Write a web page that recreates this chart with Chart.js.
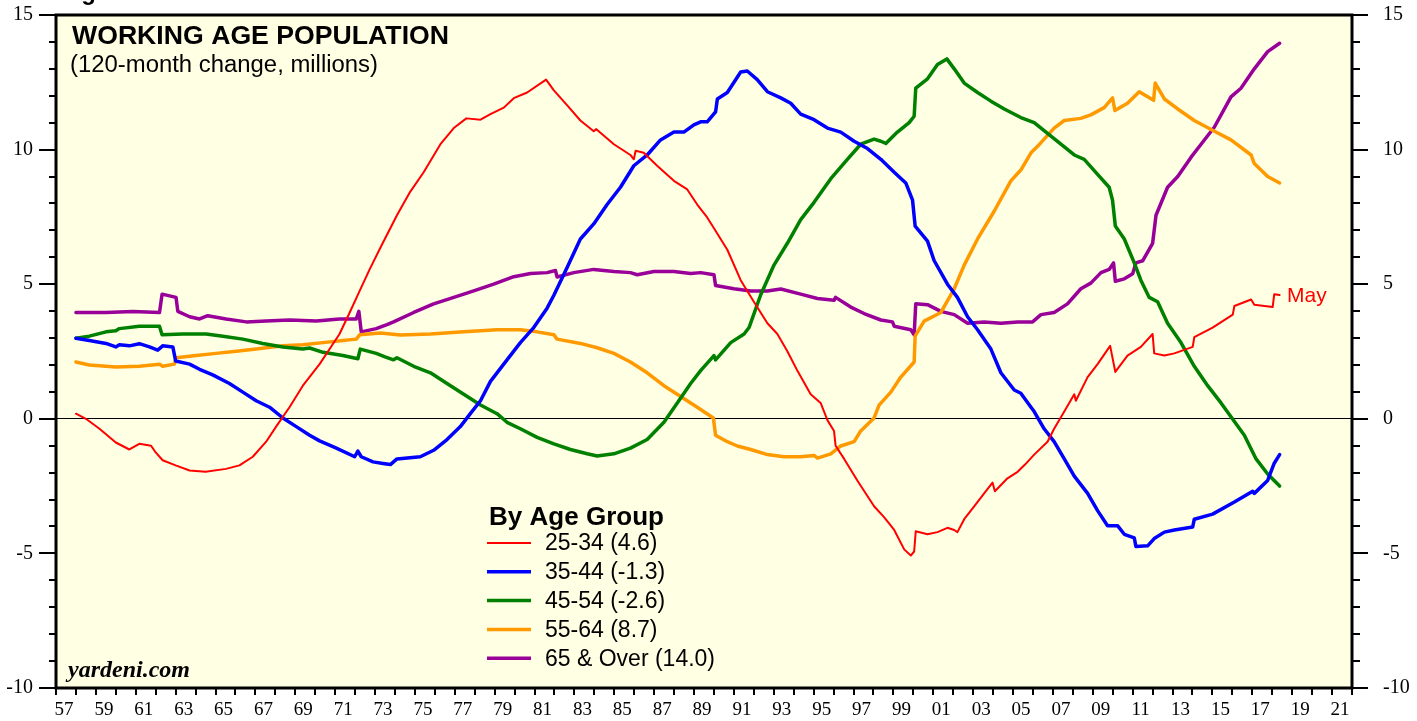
<!DOCTYPE html>
<html>
<head>
<meta charset="utf-8">
<script src="https://cdn.jsdelivr.net/npm/chart.js@4.4.1/dist/chart.umd.min.js"></script>
<style>
html, body { margin: 0; padding: 0; background: #fff; }
</style>
</head>
<body>
<canvas id="myChart" width="1417" height="721"></canvas>
<script>
// 120-month change, millions (x = decimal year)
var red_years = [1958.0, 1958.5, 1959.18, 1960.0, 1960.68, 1961.18, 1961.77, 1962.0, 1962.35, 1963.0, 1963.7, 1964.5, 1965.53, 1966.2, 1966.87, 1967.54, 1968.04, 1968.71, 1969.38, 1970.22, 1971.22, 1971.73, 1972.23, 1972.73, 1973.3, 1974.1, 1974.77, 1975.44, 1976.28, 1976.95, 1977.58, 1978.29, 1978.79, 1979.46, 1979.96, 1980.63, 1981.58, 1981.97, 1982.64, 1983.3, 1983.97, 1984.1, 1984.98, 1985.81, 1985.98, 1986.07, 1986.48, 1987.15, 1987.99, 1988.66, 1989.16, 1989.66, 1990.0, 1990.67, 1991.34, 1992.0, 1992.68, 1993.18, 1993.68, 1994.18, 1994.85, 1995.35, 1995.69, 1996.02, 1996.1, 1996.53, 1997.19, 1998.03, 1998.53, 1999.04, 1999.54, 1999.87, 2000.04, 2000.12, 2000.71, 2001.21, 2001.71, 2002.05, 2002.21, 2002.55, 2003.05, 2003.55, 2003.97, 2004.09, 2004.72, 2005.23, 2005.6, 2006.06, 2006.73, 2007.06, 2007.57, 2008.07, 2008.15, 2008.74, 2009.24, 2009.87, 2010.13, 2010.74, 2011.41, 2012.0, 2012.08, 2012.59, 2013.09, 2014.01, 2014.09, 2015.01, 2016.02, 2016.1, 2016.94, 2017.1, 2018.02, 2018.1, 2018.37];
var red_values = [0.19, 0.0, -0.37, -0.88, -1.14, -0.93, -1.0, -1.25, -1.54, -1.73, -1.92, -1.97, -1.86, -1.73, -1.41, -0.85, -0.29, 0.43, 1.23, 2.03, 3.15, 3.95, 4.75, 5.55, 6.4, 7.56, 8.44, 9.16, 10.2, 10.8, 11.16, 11.11, 11.32, 11.56, 11.91, 12.12, 12.6, 12.2, 11.64, 11.08, 10.68, 10.76, 10.2, 9.8, 9.64, 9.96, 9.88, 9.4, 8.84, 8.52, 7.96, 7.48, 7.08, 6.28, 5.15, 4.35, 3.55, 3.15, 2.51, 1.79, 0.91, 0.59, -0.05, -0.45, -1.0, -1.49, -2.29, -3.25, -3.65, -4.13, -4.85, -5.08, -4.93, -4.18, -4.29, -4.21, -4.05, -4.13, -4.21, -3.73, -3.25, -2.77, -2.37, -2.69, -2.21, -1.97, -1.7, -1.33, -0.85, -0.37, 0.27, 0.91, 0.67, 1.55, 2.03, 2.71, 1.74, 2.35, 2.67, 3.15, 2.43, 2.35, 2.43, 2.67, 3.03, 3.39, 3.87, 4.19, 4.43, 4.24, 4.15, 4.63, 4.6];

var blue_years = [1958.0, 1958.67, 1959.51, 1960.0, 1960.18, 1960.68, 1961.18, 1961.69, 1962.1, 1962.35, 1962.86, 1963.0, 1963.7, 1964.2, 1964.86, 1965.7, 1966.37, 1967.04, 1967.71, 1968.38, 1969.05, 1969.72, 1970.22, 1971.06, 1971.98, 1972.14, 1972.31, 1972.9, 1973.4, 1973.77, 1974.1, 1975.27, 1975.94, 1976.61, 1977.28, 1977.78, 1978.29, 1978.79, 1979.62, 1980.29, 1980.96, 1981.63, 1981.97, 1982.64, 1983.3, 1983.97, 1984.64, 1985.31, 1985.98, 1986.65, 1987.32, 1987.99, 1988.49, 1988.99, 1989.33, 1989.66, 1990.08, 1990.17, 1990.67, 1991.34, 1991.67, 1992.17, 1992.68, 1993.35, 1993.85, 1994.35, 1995.02, 1995.69, 1996.36, 1997.03, 1997.7, 1998.37, 1999.04, 1999.62, 1999.96, 2000.09, 2000.71, 2001.04, 2001.71, 2002.21, 2002.72, 2003.22, 2003.89, 2004.39, 2005.06, 2005.39, 2005.9, 2006.06, 2006.56, 2007.06, 2007.57, 2008.07, 2008.74, 2009.24, 2009.74, 2010.24, 2010.58, 2011.08, 2011.16, 2011.75, 2012.08, 2012.59, 2013.09, 2014.01, 2014.09, 2015.01, 2016.1, 2017.02, 2017.1, 2017.77, 2018.1, 2018.37];
var blue_values = [2.99, 2.91, 2.8, 2.67, 2.75, 2.71, 2.79, 2.67, 2.55, 2.71, 2.67, 2.15, 2.03, 1.84, 1.63, 1.31, 0.99, 0.67, 0.43, 0.03, -0.29, -0.61, -0.82, -1.09, -1.41, -1.2, -1.41, -1.6, -1.66, -1.7, -1.49, -1.41, -1.17, -0.77, -0.29, 0.19, 0.67, 1.39, 2.19, 2.83, 3.39, 4.11, 4.59, 5.63, 6.68, 7.24, 7.96, 8.6, 9.4, 9.8, 10.36, 10.65, 10.65, 10.92, 11.03, 11.03, 11.4, 11.88, 12.12, 12.88, 12.92, 12.6, 12.15, 11.92, 11.72, 11.32, 11.11, 10.8, 10.65, 10.31, 10.04, 9.64, 9.16, 8.76, 8.12, 7.16, 6.6, 5.88, 5.0, 4.51, 3.79, 3.31, 2.59, 1.71, 1.07, 0.95, 0.43, 0.27, -0.37, -0.85, -1.49, -2.13, -2.77, -3.41, -3.97, -3.97, -4.29, -4.42, -4.74, -4.72, -4.45, -4.21, -4.13, -4.02, -3.73, -3.54, -3.09, -2.69, -2.77, -2.29, -1.65, -1.33];

var green_years = [1958.0, 1958.67, 1959.51, 1960.0, 1960.18, 1961.18, 1962.19, 1962.32, 1963.36, 1964.53, 1965.37, 1966.37, 1967.37, 1968.38, 1969.38, 1969.72, 1970.39, 1971.39, 1972.14, 1972.26, 1973.06, 1973.5, 1973.93, 1974.1, 1974.94, 1975.78, 1976.61, 1977.45, 1978.29, 1979.12, 1979.62, 1980.29, 1981.13, 1981.97, 1982.8, 1983.64, 1984.14, 1984.98, 1985.81, 1986.65, 1987.49, 1988.16, 1988.83, 1989.33, 1990.0, 1990.08, 1990.84, 1991.51, 1991.76, 1992.34, 1993.01, 1993.68, 1994.35, 1995.02, 1995.86, 1996.69, 1997.36, 1998.03, 1998.37, 1998.62, 1999.2, 1999.79, 2000.04, 2000.12, 2000.71, 2001.21, 2001.68, 2002.05, 2002.55, 2003.22, 2003.89, 2004.56, 2005.39, 2006.06, 2006.73, 2007.4, 2008.07, 2008.57, 2009.24, 2009.82, 2009.99, 2010.13, 2010.58, 2011.08, 2011.41, 2011.83, 2012.25, 2012.75, 2013.42, 2014.09, 2014.76, 2015.43, 2016.02, 2016.6, 2017.19, 2017.77, 2018.37];
var green_values = [2.99, 3.07, 3.23, 3.27, 3.35, 3.44, 3.44, 3.12, 3.15, 3.15, 3.07, 2.96, 2.8, 2.67, 2.59, 2.63, 2.47, 2.35, 2.23, 2.59, 2.43, 2.3, 2.19, 2.27, 1.95, 1.71, 1.31, 0.91, 0.51, 0.19, -0.13, -0.37, -0.69, -0.93, -1.14, -1.3, -1.38, -1.3, -1.09, -0.77, -0.13, 0.59, 1.31, 1.79, 2.35, 2.19, 2.83, 3.15, 3.39, 4.6, 5.71, 6.52, 7.4, 8.04, 8.92, 9.64, 10.2, 10.39, 10.31, 10.23, 10.65, 11.0, 11.24, 12.28, 12.63, 13.16, 13.37, 13.0, 12.47, 12.12, 11.8, 11.51, 11.19, 11.0, 10.6, 10.2, 9.8, 9.64, 9.08, 8.6, 8.12, 7.16, 6.68, 5.79, 5.15, 4.51, 4.35, 3.55, 2.83, 1.95, 1.23, 0.59, -0.02, -0.61, -1.49, -2.05, -2.5];

var orange_years = [1958.0, 1958.67, 1960.0, 1961.18, 1962.19, 1962.35, 1962.94, 1963.02, 1964.03, 1965.03, 1966.04, 1967.04, 1968.38, 1969.38, 1970.39, 1971.39, 1972.06, 1972.23, 1973.27, 1974.27, 1975.78, 1977.45, 1979.12, 1980.29, 1981.13, 1981.97, 1982.13, 1983.3, 1984.14, 1984.98, 1985.81, 1986.65, 1987.49, 1988.33, 1989.16, 1989.97, 1990.08, 1990.67, 1991.17, 1991.84, 1992.68, 1993.51, 1994.35, 1995.02, 1995.19, 1995.86, 1996.36, 1997.03, 1997.36, 1998.03, 1998.28, 1998.87, 1999.37, 2000.04, 2000.09, 2000.54, 2001.38, 2002.05, 2002.55, 2003.22, 2004.06, 2004.89, 2005.39, 2005.9, 2006.23, 2007.06, 2007.57, 2008.4, 2008.9, 2009.57, 2009.99, 2010.11, 2010.74, 2011.33, 2012.05, 2012.13, 2012.59, 2013.26, 2014.09, 2015.1, 2015.93, 2016.94, 2017.1, 2017.77, 2018.37];
var orange_values = [2.11, 2.0, 1.92, 1.95, 2.03, 1.95, 2.03, 2.27, 2.35, 2.43, 2.51, 2.59, 2.71, 2.75, 2.83, 2.91, 2.96, 3.12, 3.19, 3.11, 3.15, 3.23, 3.31, 3.31, 3.23, 3.12, 2.96, 2.8, 2.64, 2.43, 2.11, 1.71, 1.23, 0.83, 0.43, 0.03, -0.61, -0.85, -1.01, -1.14, -1.33, -1.41, -1.41, -1.36, -1.46, -1.3, -1.01, -0.85, -0.45, 0.03, 0.51, 0.99, 1.55, 2.11, 3.07, 3.63, 3.95, 4.83, 5.71, 6.68, 7.72, 8.84, 9.24, 9.88, 10.12, 10.8, 11.08, 11.16, 11.29, 11.56, 11.92, 11.45, 11.72, 12.15, 11.83, 12.47, 11.88, 11.51, 11.08, 10.68, 10.36, 9.8, 9.48, 9.0, 8.76];

var purple_years = [1958.0, 1959.51, 1960.85, 1962.19, 1962.32, 1963.02, 1963.11, 1963.7, 1964.2, 1964.61, 1965.53, 1966.54, 1967.54, 1968.71, 1970.05, 1971.22, 1972.06, 1972.19, 1972.31, 1973.06, 1973.6, 1973.93, 1974.94, 1975.94, 1976.95, 1977.95, 1978.95, 1979.96, 1980.8, 1981.63, 1982.05, 1982.13, 1982.97, 1983.97, 1984.98, 1985.81, 1986.15, 1986.99, 1987.99, 1988.83, 1989.33, 1990.0, 1990.08, 1991.0, 1991.84, 1992.68, 1993.35, 1994.35, 1995.19, 1996.02, 1996.1, 1996.86, 1997.53, 1998.37, 1998.95, 1999.04, 1999.87, 2000.04, 2000.12, 2000.71, 2001.38, 2002.05, 2002.72, 2003.55, 2004.39, 2005.23, 2005.98, 2006.4, 2007.06, 2007.73, 2008.4, 2008.9, 2009.41, 2009.82, 2010.04, 2010.13, 2010.58, 2011.0, 2011.16, 2011.5, 2012.0, 2012.17, 2012.75, 2013.26, 2013.93, 2014.43, 2015.1, 2015.93, 2016.43, 2017.1, 2017.77, 2018.37];
var purple_values = [3.95, 3.95, 3.99, 3.95, 4.63, 4.51, 3.99, 3.79, 3.71, 3.83, 3.71, 3.6, 3.63, 3.67, 3.63, 3.71, 3.71, 3.99, 3.23, 3.35, 3.5, 3.6, 3.95, 4.27, 4.51, 4.75, 5.0, 5.28, 5.4, 5.43, 5.51, 5.27, 5.43, 5.55, 5.47, 5.43, 5.35, 5.47, 5.47, 5.4, 5.43, 5.35, 4.95, 4.83, 4.75, 4.75, 4.82, 4.63, 4.47, 4.4, 4.51, 4.15, 3.91, 3.67, 3.6, 3.44, 3.31, 3.12, 4.27, 4.24, 3.99, 3.87, 3.55, 3.6, 3.55, 3.6, 3.6, 3.87, 3.95, 4.27, 4.83, 5.04, 5.43, 5.55, 5.79, 5.11, 5.2, 5.39, 5.79, 5.87, 6.52, 7.56, 8.6, 9.0, 9.72, 10.2, 10.84, 11.96, 12.28, 13.0, 13.64, 13.95];

var series_labels = ['25-34 (4.6)', '35-44 (-1.3)', '45-54 (-2.6)', '55-64 (8.7)', '65 & Over (14.0)'];

var x_min = 1957, x_max = 2022;
var y_min = -10, y_max = 15;

function points(xs, ys) {
    return xs.map(function (x, i) { return { x: x, y: ys[i] }; });
}

// draws text squeezed/stretched to a target width
function fitText(c, text, x, y, font, width) {
    c.save();
    c.font = font;
    var w = c.measureText(text).width;
    c.translate(x, y);
    c.scale(width / w, 1);
    c.fillText(text, 0, 0);
    c.restore();
}

// fixed axis sizes, and no extra label padding pushed into the layout
function fixSize(w, h) {
    return function (s) {
        if (w !== null) s.width = w;
        if (h !== null) s.height = h;
        s.paddingTop = 0; s.paddingBottom = 0; s.paddingLeft = 0; s.paddingRight = 0;
    };
}

var decor = {
    id: 'decor',
    beforeDraw: function (chart) {
        var c = chart.ctx, a = chart.chartArea;
        c.save();
        c.fillStyle = '#ffffe3';
        c.fillRect(a.left, a.top, a.right - a.left, a.bottom - a.top);
        c.restore();
    },
    afterDraw: function (chart) {
        var c = chart.ctx, a = chart.chartArea;
        var sx = chart.scales.x, sy = chart.scales.y;
        c.save();
        c.strokeStyle = '#000';
        c.lineWidth = 2;
        sx.ticks.forEach(function (t) {
            var px = Math.round(sx.getPixelForValue(t.value));
            c.beginPath(); c.moveTo(px, a.bottom); c.lineTo(px, a.bottom + 7); c.stroke();
        });
        sy.ticks.forEach(function (t) {
            var py = Math.round(sy.getPixelForValue(t.value));
            var major = t.value % 5 === 0;
            c.beginPath(); c.moveTo(a.left - (major ? 17 : 7), py); c.lineTo(a.left, py); c.stroke();
            c.beginPath(); c.moveTo(a.right, py); c.lineTo(a.right + (major ? 16 : 8), py); c.stroke();
        });
        c.lineWidth = 3;
        c.strokeRect(a.left, a.top, a.right - a.left, a.bottom - a.top);

        // titles
        c.fillStyle = '#000';
        c.textBaseline = 'alphabetic';
        fitText(c, 'Fig', 60, 0, 'bold 26px "Liberation Sans"', 36);
        fitText(c, 'WORKING AGE POPULATION', 72, 44, 'bold 26px "Liberation Sans"', 377);
        fitText(c, '(120-month change, millions)', 70, 72, '23px "Liberation Sans"', 308);
        fitText(c, 'By Age Group', 489, 525, 'bold 26px "Liberation Sans"', 175);

        // legend
        c.textBaseline = 'middle';
        chart.data.datasets.forEach(function (ds, i) {
            var y = 543 + i * 28.8;
            c.strokeStyle = ds.borderColor;
            c.lineWidth = ds.borderWidth;
            c.beginPath(); c.moveTo(487, y); c.lineTo(531, y); c.stroke();
            c.fillStyle = '#000';
            c.font = '23px "Liberation Sans"';
            c.fillText(ds.label, 545, y + 1);
        });

        c.fillStyle = '#ff0000';
        c.font = '21px "Liberation Sans"';
        c.fillText('May', 1287, 296);

        c.fillStyle = '#000';
        c.textBaseline = 'alphabetic';
        c.font = 'italic bold 24px "Liberation Serif"';
        c.fillText('yardeni.com', 68, 677);
        c.restore();
    }
};

var context = document.getElementById('myChart');
var graph = new Chart(context, {
    type: 'line',
    data: {
        datasets: [
            { label: series_labels[0], data: points(red_years, red_values), borderColor: '#ff0000', borderWidth: 2 },
            { label: series_labels[1], data: points(blue_years, blue_values), borderColor: '#0000ff', borderWidth: 3.5 },
            { label: series_labels[2], data: points(green_years, green_values), borderColor: '#008000', borderWidth: 3.5 },
            { label: series_labels[3], data: points(orange_years, orange_values), borderColor: '#ff9900', borderWidth: 3.5 },
            { label: series_labels[4], data: points(purple_years, purple_values), borderColor: '#990099', borderWidth: 3.5 }
        ]
    },
    options: {
        responsive: false,
        devicePixelRatio: 1,
        animation: false,
        layout: { padding: { top: 15, left: 0, right: 0, bottom: 0 } },
        elements: { point: { radius: 0 }, line: { tension: 0, borderJoinStyle: 'round', borderCapStyle: 'round' } },
        plugins: { legend: { display: false }, tooltip: { enabled: false } },
        scales: {
            x: {
                type: 'linear', min: x_min, max: x_max,
                afterFit: fixSize(null, 33),
                grid: { display: false }, border: { display: false },
                ticks: {
                    stepSize: 1, autoSkip: false, maxRotation: 0, padding: 3, labelOffset: 8,
                    color: '#000', font: { family: '"Liberation Serif"', size: 19 },
                    callback: function (v) { return v % 2 === 1 ? String(v % 100).padStart(2, '0') : ''; }
                }
            },
            y: {
                position: 'left', min: y_min, max: y_max,
                afterFit: fixSize(56, null),
                border: { display: false },
                grid: {
                    drawTicks: false, lineWidth: 1,
                    color: function (ctx) { return ctx.tick && ctx.tick.value === 0 ? '#000' : 'rgba(0,0,0,0)'; }
                },
                ticks: {
                    stepSize: 1, autoSkip: false, padding: 23,
                    color: '#000', font: { family: '"Liberation Serif"', size: 20 },
                    callback: function (v) { return v % 5 === 0 ? String(v) : ''; }
                }
            },
            y2: {
                position: 'right', min: y_min, max: y_max,
                afterFit: fixSize(65, null),
                border: { display: false }, grid: { display: false },
                ticks: {
                    stepSize: 1, autoSkip: false, padding: 23,
                    color: '#000', font: { family: '"Liberation Serif"', size: 20 },
                    callback: function (v) { return v % 5 === 0 ? String(v) : ''; }
                }
            }
        }
    },
    plugins: [decor]
});
</script>
</body>
</html>
